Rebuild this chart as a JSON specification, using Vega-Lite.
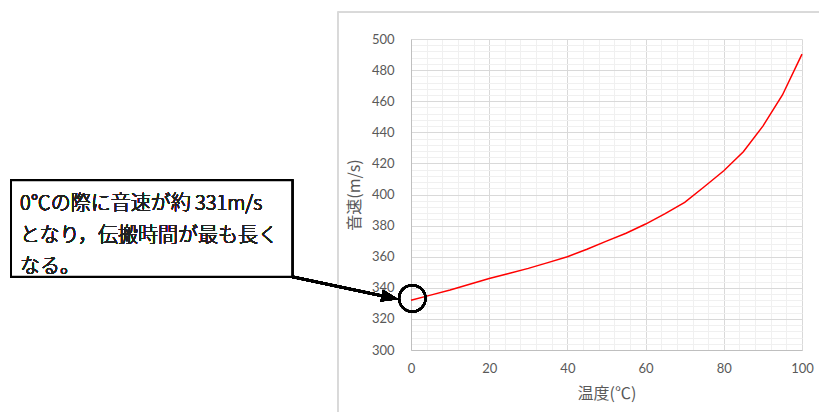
{
  "$schema": "https://vega.github.io/schema/vega-lite/v6.json",
  "width": 391,
  "height": 311,
  "autosize": {"type": "none"},
  "padding": {"left": 411, "top": 39, "right": 17, "bottom": 62},
  "background": "white",
  "config": {"view": {"stroke": null}},
  "data": {
    "values": [
      {"t": 0, "v": 332.0},
      {"t": 5, "v": 335.3},
      {"t": 10, "v": 338.6},
      {"t": 15, "v": 342.3},
      {"t": 20, "v": 346.0},
      {"t": 25, "v": 349.2},
      {"t": 30, "v": 352.5},
      {"t": 35, "v": 356.2},
      {"t": 40, "v": 360.0},
      {"t": 45, "v": 364.8},
      {"t": 50, "v": 370.0},
      {"t": 55, "v": 375.1},
      {"t": 60, "v": 381.0},
      {"t": 65, "v": 387.7},
      {"t": 70, "v": 395.0},
      {"t": 75, "v": 405.0},
      {"t": 80, "v": 415.3},
      {"t": 85, "v": 427.5},
      {"t": 90, "v": 444.0},
      {"t": 95, "v": 464.0},
      {"t": 100, "v": 490.3}
    ]
  },
  "layer": [
    {
      "mark": {"type": "line", "color": "#ff0000", "strokeWidth": 1.5},
      "encoding": {
        "x": {
          "field": "t",
          "type": "quantitative",
          "scale": {"domain": [0, 100], "nice": false, "zero": false},
          "axis": {
            "values": [0, 4, 8, 12, 16, 20, 24, 28, 32, 36, 40, 44, 48, 52, 56, 60, 64, 68, 72, 76, 80, 84, 88, 92, 96, 100],
            "tickCount": 200,
            "format": "d",
            "labelExpr": "datum.value % 20 === 0 ? datum.label : ''",
            "gridColor": {"condition": {"test": "datum.value % 20 === 0", "value": "#d9d9d9"}, "value": "#f0f0f0"},
            "ticks": false,
            "domainColor": "#bfbfbf",
            "labelFont": "Lato",
            "labelFontSize": 13,
            "labelColor": "#595959",
            "labelPadding": 12,
            "labelFlush": false,
            "labelOverlap": false,
            "title": "温度(℃)",
            "titleFont": "Noto Sans CJK JP",
            "titleFontSize": 16,
            "titleFontWeight": "normal",
            "titleColor": "#595959",
            "titlePadding": 10
          }
        },
        "y": {
          "field": "v",
          "type": "quantitative",
          "scale": {"domain": [300, 500], "nice": false, "zero": false},
          "axis": {
            "values": [300, 304, 308, 312, 316, 320, 324, 328, 332, 336, 340, 344, 348, 352, 356, 360, 364, 368, 372, 376, 380, 384, 388, 392, 396, 400, 404, 408, 412, 416, 420, 424, 428, 432, 436, 440, 444, 448, 452, 456, 460, 464, 468, 472, 476, 480, 484, 488, 492, 496, 500],
            "tickCount": 200,
            "format": "d",
            "labelExpr": "datum.value % 20 === 0 ? datum.label : ''",
            "gridColor": {"condition": {"test": "datum.value % 20 === 0", "value": "#d9d9d9"}, "value": "#f0f0f0"},
            "ticks": false,
            "domainColor": "#bfbfbf",
            "labelFont": "Lato",
            "labelFontSize": 13,
            "labelColor": "#595959",
            "labelPadding": 17,
            "labelFlush": false,
            "labelOverlap": false,
            "title": "音速(m/s)",
            "titleFont": "Noto Sans CJK JP",
            "titleFontSize": 16,
            "titleFontWeight": "normal",
            "titleColor": "#595959",
            "titlePadding": 9
          }
        }
      }
    },
    {
      "mark": {"type": "rect", "fill": "transparent", "stroke": "#d9d9d9", "strokeWidth": 1},
      "encoding": {
        "x": {"datum": -18.7},
        "x2": {"datum": 120},
        "y": {"datum": 517.4},
        "y2": {"datum": 250}
      }
    },
    {
      "mark": {"type": "rect", "fill": "white", "stroke": "black", "strokeWidth": 2},
      "encoding": {
        "x": {"datum": -102.3},
        "x2": {"datum": -30.4},
        "y": {"datum": 409.1},
        "y2": {"datum": 347.1}
      }
    },
    {
      "mark": {
        "type": "text",
        "align": "left",
        "baseline": "top",
        "font": "Noto Sans CJK JP",
        "fontSize": 20,
        "fontWeight": 300,
        "lineHeight": 31.5,
        "fill": "#222222",
        "text": ["0℃の際に音速が約 331m/s", "となり，伝搬時間が最も長く", "なる。"]
      },
      "encoding": {
        "x": {"datum": -100},
        "y": {"datum": 400.2}
      }
    },
    {
      "mark": {"type": "rule", "color": "black", "strokeWidth": 2.5},
      "encoding": {
        "x": {"datum": -30.4},
        "y": {"datum": 347.1},
        "x2": {"datum": -5.37},
        "y2": {"datum": 333.8}
      }
    },
    {
      "mark": {"type": "point", "shape": "M1,0L-1,-0.7L-1,0.7Z", "filled": true, "fill": "black", "strokeWidth": 0, "opacity": 1, "size": 289, "angle": 12},
      "encoding": {
        "x": {"datum": -5.37},
        "y": {"datum": 333.8}
      }
    },
    {
      "mark": {"type": "point", "shape": "circle", "filled": false, "stroke": "black", "strokeWidth": 2, "opacity": 1, "size": 700},
      "encoding": {
        "x": {"datum": 0.33},
        "y": {"datum": 333.2}
      }
    }
  ]
}
